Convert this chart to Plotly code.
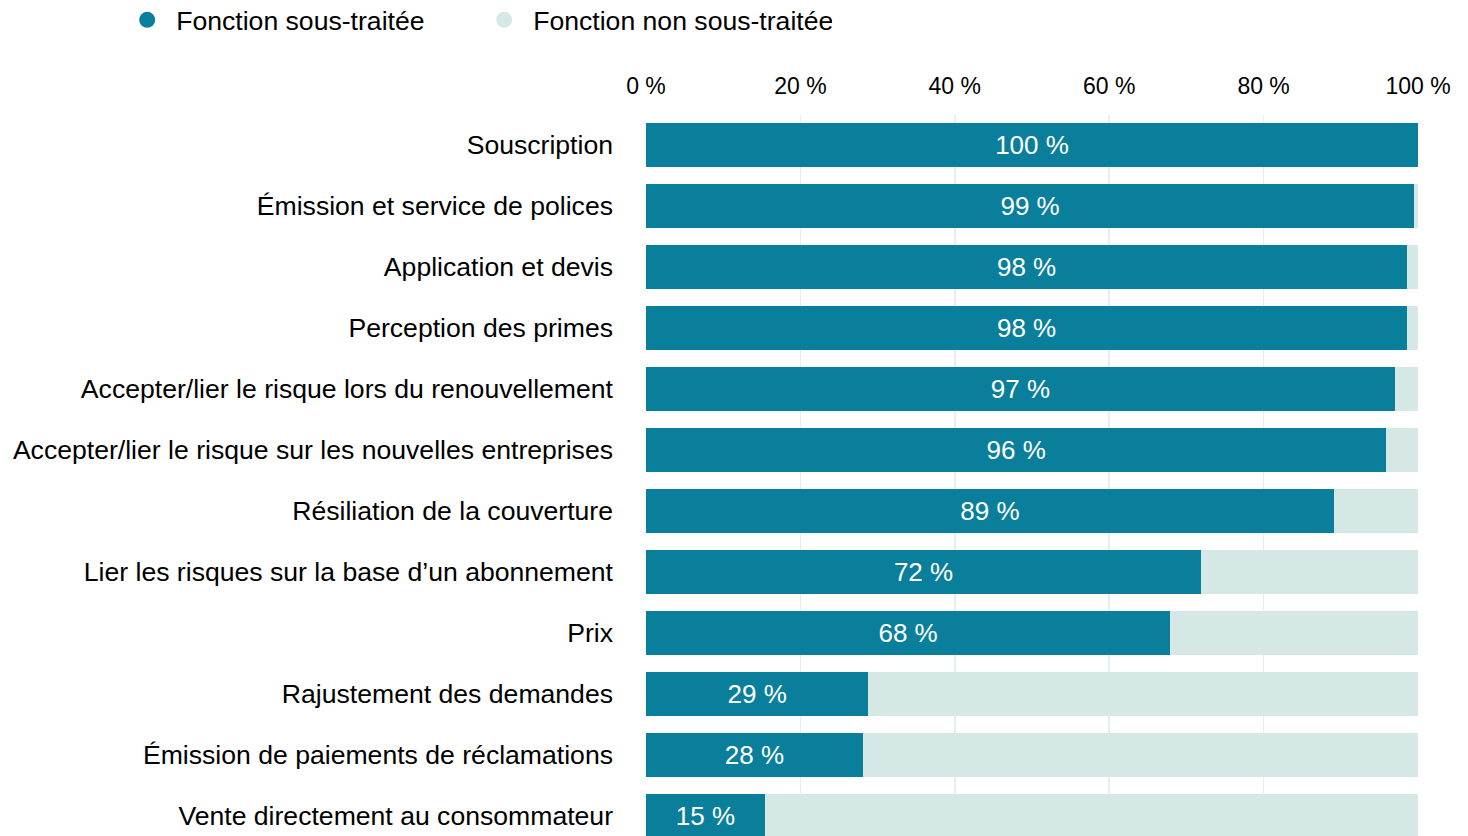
import plotly.graph_objects as go

categories = [
    "Souscription",
    "Émission et service de polices",
    "Application et devis",
    "Perception des primes",
    "Accepter/lier le risque lors du renouvellement",
    "Accepter/lier le risque sur les nouvelles entreprises",
    "Résiliation de la couverture",
    "Lier les risques sur la base d’un abonnement",
    "Prix",
    "Rajustement des demandes",
    "Émission de paiements de réclamations",
    "Vente directement au consommateur",
]
outsourced = [100, 99.5, 98.6, 98.6, 97.0, 95.9, 89.1, 71.9, 67.9, 28.8, 28.1, 15.4]
labels = ["100 %", "99 %", "98 %", "98 %", "97 %", "96 %", "89 %", "72 %", "68 %", "29 %", "28 %", "15 %"]
not_outsourced = [round(100 - v, 1) for v in outsourced]
tick_vals = [0, 20, 40, 60, 80, 100]
tick_text = ["0 %", "20 %", "40 %", "60 %", "80 %", "100 %"]
series_names = ["Fonction sous-traitée", "Fonction non sous-traitée"]

DARK = "#0a7f9c"
LIGHT = "#d5e8e5"
FONT = "Liberation Sans, Arial, sans-serif"

ypos = list(range(len(categories)))

fig = go.Figure()
fig.add_trace(go.Bar(
    y=ypos, x=outsourced, orientation="h", marker=dict(color=DARK, line=dict(width=0)),
    width=0.71, text=labels, textposition="inside", insidetextanchor="middle",
    textfont=dict(color="white", size=26, family=FONT), showlegend=False,
    hoverinfo="skip", name=series_names[0],
))
fig.add_trace(go.Bar(
    y=ypos, x=not_outsourced, orientation="h", marker=dict(color=LIGHT, line=dict(width=0)),
    width=0.71, showlegend=False, hoverinfo="skip", name=series_names[1],
))
for nm, col in zip(series_names, [DARK, LIGHT]):
    fig.add_trace(go.Scatter(
        x=[None], y=[None], mode="markers", name=nm,
        marker=dict(symbol="circle", size=20, color=col),
    ))

# figure is 4px taller and shifted up 4px so the legend sits as in the reference
fig.update_layout(
    width=1468, height=840,
    barmode="stack", bargap=0.29,
    margin=dict(l=646, r=50, t=119, b=0),
    plot_bgcolor="white", paper_bgcolor="white",
    font=dict(family=FONT, size=26, color="black"),
    legend=dict(
        orientation="h", xref="paper", yref="paper",
        x=-0.6837, y=1.165, xanchor="left", yanchor="top",
        font=dict(size=26.6, color="black", family=FONT),
        entrywidth=294, entrywidthmode="pixels", itemwidth=48,
        itemsizing="trace", traceorder="normal",
    ),
    xaxis=dict(
        side="top", range=[0, 100], tickvals=tick_vals, ticktext=tick_text,
        showgrid=True, gridcolor="#e6eeee", gridwidth=1.5, zeroline=False,
        showline=False, ticks="", tickfont=dict(size=23, color="black", family=FONT),
        ticklabelstandoff=15, fixedrange=True,
    ),
    yaxis=dict(
        range=[11.33, -0.49], tickvals=ypos, ticktext=categories,
        showgrid=False, zeroline=False, showline=False, ticks="",
        tickfont=dict(size=26.6, color="black", family=FONT),
        ticklabelstandoff=32, fixedrange=True,
    ),
)

fig.write_html(
    "out.html",
    config={"displayModeBar": False, "staticPlot": True},
    post_script="document.body.style.margin='0'; document.body.style.marginTop='-4px'; document.body.style.overflow='hidden';",
)
